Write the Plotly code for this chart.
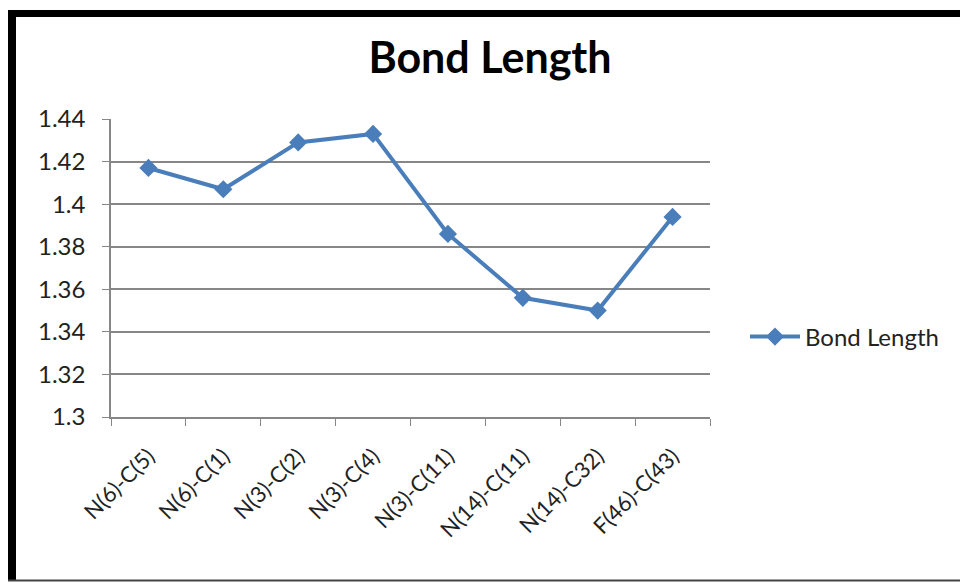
import plotly.graph_objects as go

categories = ["N(6)-C(5)", "N(6)-C(1)", "N(3)-C(2)", "N(3)-C(4)",
              "N(3)-C(11)", "N(14)-C(11)", "N(14)-C32)", "F(46)-C(43)"]
bond_length = [1.417, 1.407, 1.429, 1.433, 1.386, 1.356, 1.350, 1.394]
y_ticks = [1.3, 1.32, 1.34, 1.36, 1.38, 1.4, 1.42, 1.44]
y_tick_text = ["1.3", "1.32", "1.34", "1.36", "1.38", "1.4", "1.42", "1.44"]

W, H = 960, 583
L, R, T, B = 111, 250, 119, 166
PW, PH = W - L - R, H - T - B

def px(x):
    return (x - L) / PW

def py(y):
    return (H - B - y) / PH

BLUE = "#4A7EBB"
GRID = "#878787"

fig = go.Figure()
fig.add_trace(go.Scatter(
    x=categories, y=bond_length, mode="lines+markers", name="Bond Length",
    line=dict(color=BLUE, width=4),
    marker=dict(symbol="diamond", size=14, color=BLUE),
))

shapes = [
    dict(type="rect", xref="paper", yref="paper", x0=px(8), x1=px(962), y0=py(10), y1=py(17),
         fillcolor="black", line=dict(width=0), layer="above"),
    dict(type="rect", xref="paper", yref="paper", x0=px(8), x1=px(16), y0=py(10), y1=py(581),
         fillcolor="black", line=dict(width=0), layer="above"),
    dict(type="rect", xref="paper", yref="paper", x0=px(8), x1=px(962), y0=py(579.5), y1=py(581.5),
         fillcolor="#444444", line=dict(width=0), layer="above"),
]

fig.update_layout(
    width=W, height=H,
    margin=dict(l=L, r=R, t=T, b=B, pad=0),
    paper_bgcolor="white", plot_bgcolor="white",
    font=dict(family="Lato", color="#222222"),
    title=dict(text="<b>Bond Length</b>", x=490 / W, xanchor="center",
               y=1 - 58 / H, yanchor="middle",
               font=dict(family="Lato", size=43, color="black")),
    showlegend=True,
    legend=dict(x=px(745), y=py(337), xanchor="left", yanchor="middle",
                font=dict(family="Lato", size=24, color="#222222"),
                bgcolor="rgba(0,0,0,0)", itemwidth=50),
    xaxis=dict(type="category", range=[-0.5, 7.5], showgrid=False,
               showline=True, linecolor=GRID, linewidth=1.5,
               ticks="outside", tickson="boundaries", ticklen=7, tickcolor=GRID,
               ticklabelstandoff=16,
               tickangle=-45, tickfont=dict(family="Lato", size=22, color="#222222")),
    yaxis=dict(range=[1.3, 1.44], tickvals=y_ticks, ticktext=y_tick_text,
               showgrid=True, gridcolor=GRID, gridwidth=1.5, zeroline=False,
               showline=True, linecolor=GRID, linewidth=1.5,
               ticks="outside", ticklen=7, tickcolor=GRID,
               ticklabelstandoff=12,
               tickfont=dict(family="Lato", size=24, color="#222222")),
    shapes=shapes,
)

fig.write_html("out.html")
